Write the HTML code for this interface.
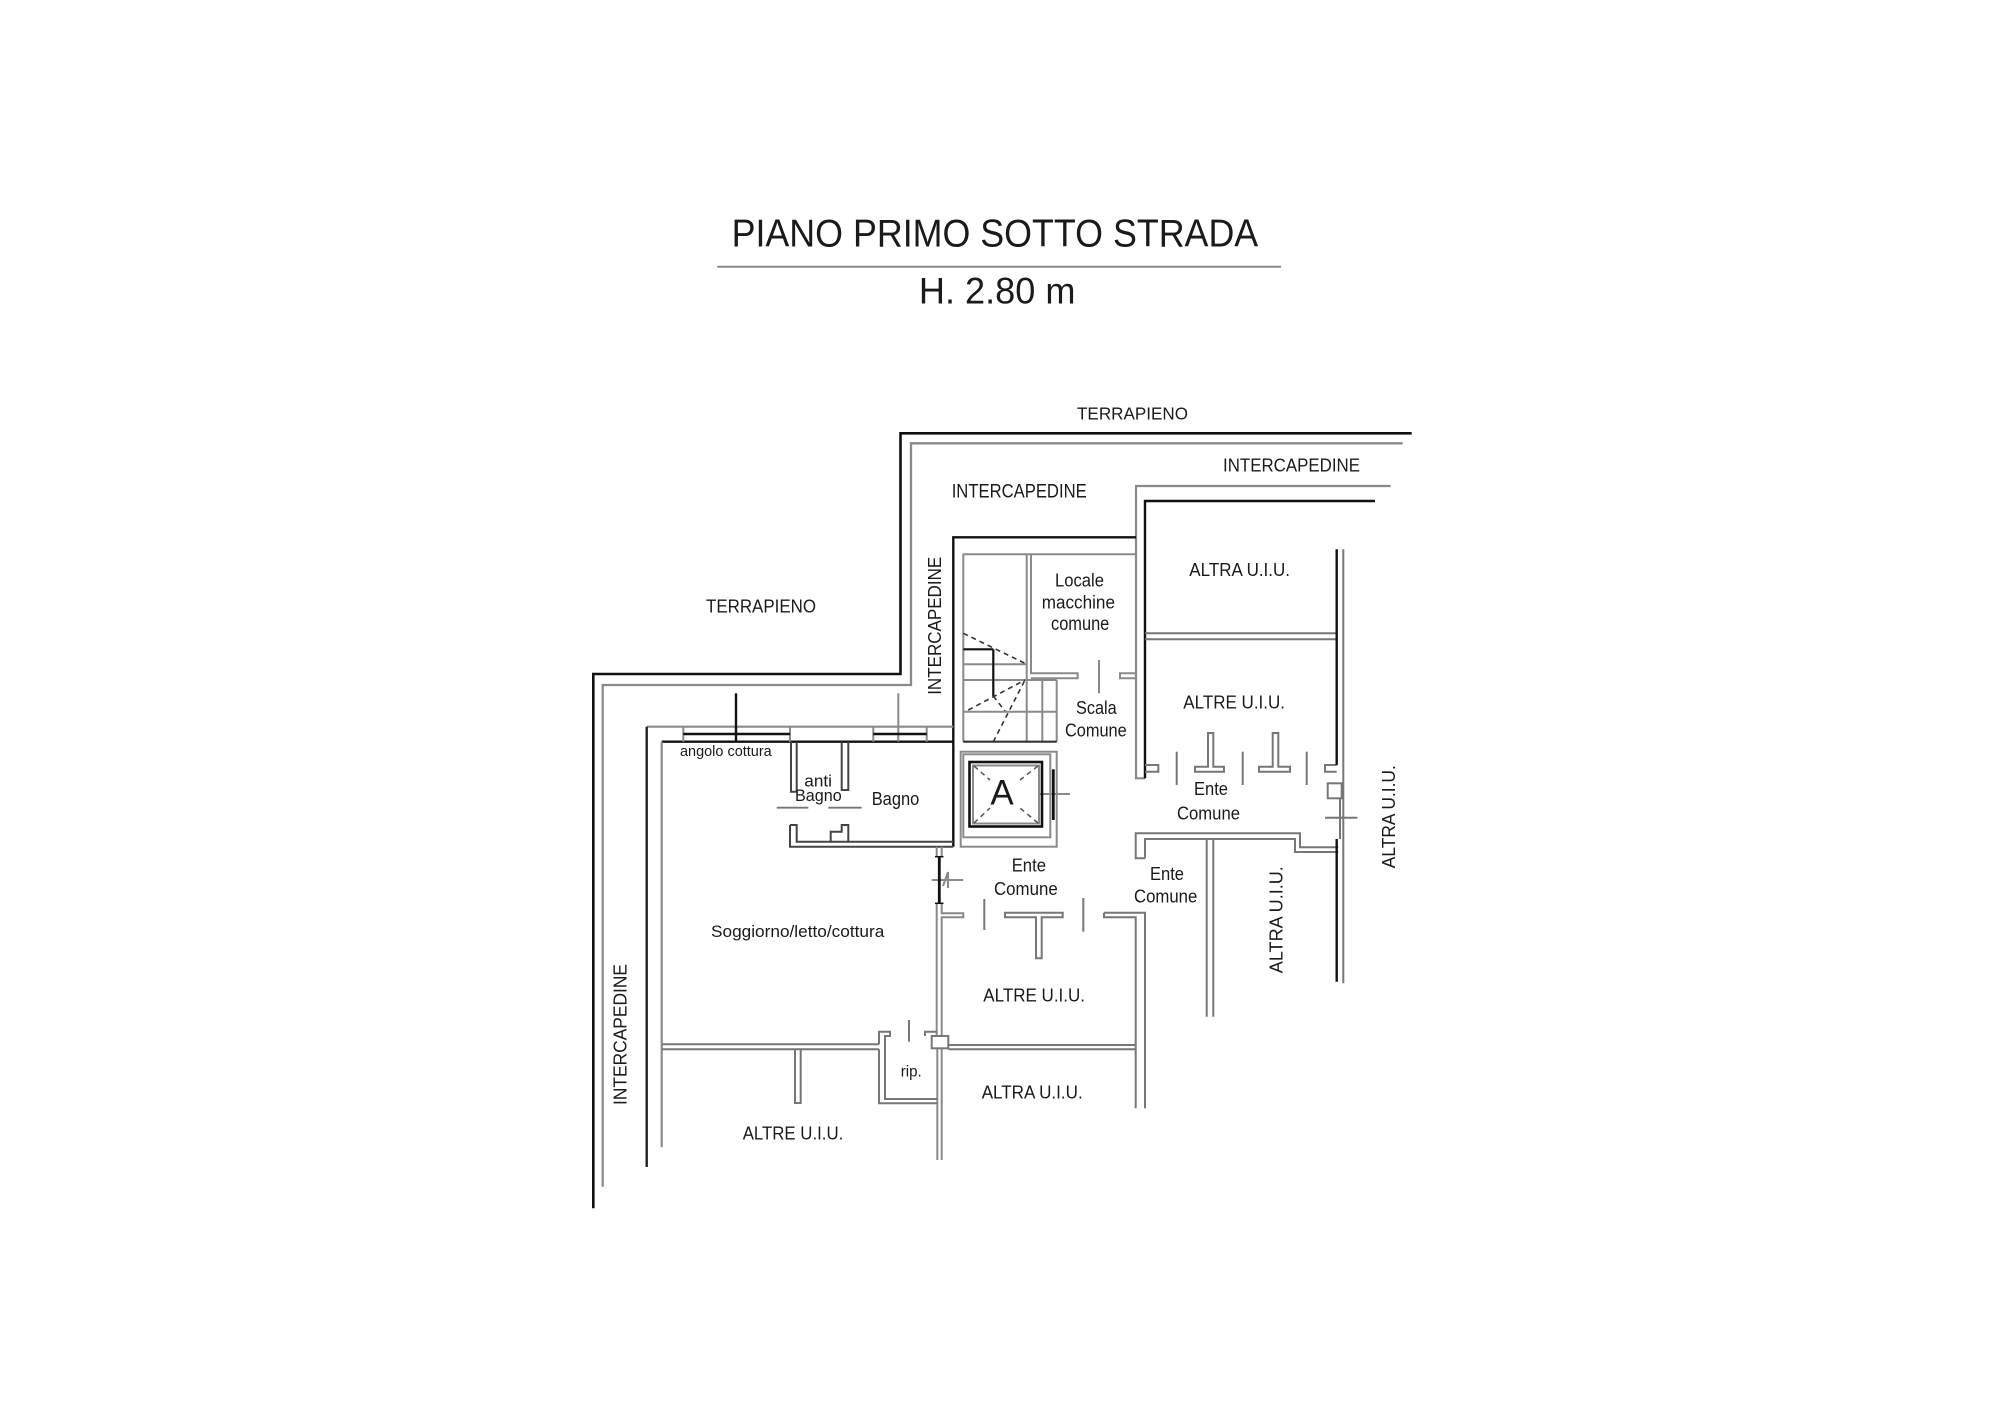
<!DOCTYPE html>
<html><head><meta charset="utf-8"><style>
html,body{margin:0;padding:0;background:#fff;}
svg{display:block;}
text{font-family:"Liberation Sans",Arial,sans-serif;fill:#1a1a1a;}
</style></head><body>
<svg width="2000" height="1414" viewBox="0 0 2000 1414" xmlns="http://www.w3.org/2000/svg">
<rect width="2000" height="1414" fill="#fff"/>

<!-- Title -->
<text x="731.6" y="246.7" font-size="38.5" textLength="526.6" lengthAdjust="spacingAndGlyphs">PIANO PRIMO SOTTO STRADA</text>
<line x1="717.3" y1="266.7" x2="1281" y2="266.7" stroke="#888" stroke-width="2"/>
<text x="918.9" y="303.3" font-size="37" textLength="156.6" lengthAdjust="spacingAndGlyphs">H. 2.80 m</text>

<g fill="none" stroke-linejoin="miter">
<!-- outer walls -->
<polyline points="1411.7,433.3 900.5,433.3 900.5,674 593.3,674 593.3,1208.3" stroke="#111" stroke-width="2.6"/>
<polyline points="1402.7,443.3 911,443.3 911,685 602.7,685 602.7,1186.7" stroke="#8a8a8a" stroke-width="2.3"/>
<polyline points="1390.7,486 1136,486 1136,778.3 1145,778.3" stroke="#8a8a8a" stroke-width="2.2"/>
<polyline points="1136,537.3 953.3,537.3 953.3,846.7" stroke="#111" stroke-width="2.4"/>
<polyline points="953.3,726.7 646.7,726.7" stroke="#8a8a8a" stroke-width="2.2"/>
<line x1="646.7" y1="726.7" x2="646.7" y2="1167" stroke="#222" stroke-width="2.4"/>
<polyline points="1375,501 1145,501 1145,778.3" stroke="#111" stroke-width="2.4"/>
<polyline points="953.3,741.7 661.7,741.7" stroke="#111" stroke-width="2.4"/>
<line x1="661.7" y1="741.7" x2="661.7" y2="1147.3" stroke="#8a8a8a" stroke-width="2.2"/>

<!-- windows on top wall -->
<g stroke="#8a8a8a" stroke-width="2">
<line x1="683.3" y1="726.7" x2="683.3" y2="741.7"/><line x1="790" y1="726.7" x2="790" y2="741.7"/>
<line x1="873.3" y1="726.7" x2="873.3" y2="741.7"/><line x1="926.7" y1="726.7" x2="926.7" y2="741.7"/>
<line x1="898.3" y1="693.3" x2="898.3" y2="741.7"/>
</g>
<g stroke="#111" stroke-width="2.4">
<line x1="683.3" y1="734" x2="790" y2="734"/><line x1="873.3" y1="734" x2="926.7" y2="734"/>
<line x1="736" y1="693.3" x2="736" y2="741.7"/>
</g>

<!-- bathroom walls -->
<g stroke="#444" stroke-width="2">
<path d="M791 741.7 V791.7 H796.7 V741.7"/>
<path d="M841.7 741.7 V790 H848.3 V741.7"/>
<path d="M790 825 V846.7 H953.3"/>
<path d="M790 825 H796.7 V841.7 H830.7 V831.7 H841.7 V825 H848.3 V841.7 H953.3"/>
<line x1="830.7" y1="841.7" x2="848.3" y2="841.7"/>
</g>
<g stroke="#777" stroke-width="1.8">
<line x1="776.7" y1="807.7" x2="808.3" y2="807.7"/>
<line x1="828.3" y1="807.7" x2="861.7" y2="807.7"/>
</g>

<!-- stair / locale -->
<g stroke="#8a8a8a" stroke-width="2">
<line x1="962.7" y1="554.3" x2="1136" y2="554.3"/>
<line x1="963.3" y1="554.3" x2="963.3" y2="741.7"/>
<path d="M1026.7 554.3 V741.7"/>
<path d="M1031 554.3 V673.3 H1077.7 V678.3 H1031"/>
<path d="M1136 673.3 H1120 V678.3 H1136"/>
<line x1="1099" y1="660" x2="1099" y2="693.3"/>
<line x1="963.3" y1="664.3" x2="1026.7" y2="664.3"/>
<line x1="963.3" y1="680" x2="1056.7" y2="680"/>
<line x1="963.3" y1="711.7" x2="1056.7" y2="711.7"/>
<line x1="1042.3" y1="680" x2="1042.3" y2="741.7"/>
<line x1="1056.7" y1="680" x2="1056.7" y2="741.7"/>
</g>
<line x1="963.3" y1="741.7" x2="1056.7" y2="741.7" stroke="#333" stroke-width="2.2"/>
<g stroke="#111" stroke-width="2.2">
<line x1="963.3" y1="649.3" x2="993.3" y2="649.3"/>
<line x1="993.3" y1="649.3" x2="993.3" y2="696"/>
</g>
<g stroke="#333" stroke-width="1.6" stroke-dasharray="5,4">
<line x1="963.3" y1="633.3" x2="1025" y2="663.3"/>
<line x1="968.3" y1="710" x2="1025" y2="680"/>
<line x1="993.3" y1="741.7" x2="1025" y2="680"/>
<line x1="993.3" y1="696" x2="1005" y2="711"/>
</g>

<!-- lift -->
<g stroke="#8a8a8a" stroke-width="2">
<rect x="960.7" y="751.7" width="96" height="95"/>
<rect x="963.3" y="754.3" width="87" height="83"/>
<rect x="973" y="765.5" width="66" height="58"/>
<line x1="1038.3" y1="794" x2="1070" y2="794"/>
</g>
<rect x="969.5" y="762" width="72.5" height="64.5" fill="none" stroke="#111" stroke-width="2.6"/>
<line x1="1053.3" y1="769.3" x2="1053.3" y2="820" stroke="#111" stroke-width="2.8"/>
<g stroke="#555" stroke-width="1.5" stroke-dasharray="5,4">
<line x1="974" y1="766" x2="990" y2="780"/>
<line x1="1038" y1="766" x2="1020" y2="780"/>
<line x1="974" y1="823" x2="990" y2="808"/>
<line x1="1038" y1="823" x2="1020" y2="808"/>
</g>

<!-- door with crosshair below bathroom -->
<g stroke="#8a8a8a" stroke-width="2">
<line x1="936.7" y1="846.7" x2="936.7" y2="856.7"/><line x1="941.7" y1="846.7" x2="941.7" y2="856.7"/>
<path d="M936.7 903.3 V1036"/><path d="M941.7 903.3 V913.3 H963.3 V917.3 H941.7 V1036"/>
<path d="M937.3 1048.3 V1160"/><path d="M941.7 1048.3 V1160"/>
<line x1="931.7" y1="880" x2="963.3" y2="880"/>
<line x1="943" y1="886" x2="948" y2="872"/><line x1="948" y1="872" x2="948" y2="888"/>
</g>
<line x1="939.3" y1="856.7" x2="939.3" y2="903.3" stroke="#111" stroke-width="2.8"/>
<line x1="935" y1="856.7" x2="943.5" y2="856.7" stroke="#111" stroke-width="1.5"/>
<line x1="935" y1="903.3" x2="943.5" y2="903.3" stroke="#111" stroke-width="1.5"/>

<!-- Ente comune lower door row -->
<g stroke="#777" stroke-width="2">
<line x1="984.3" y1="899" x2="984.3" y2="930"/>
<path d="M1005 912.7 H1062.7 V917.3 H1041.7 V958.3 H1036 V917.3 H1005 Z"/>
<line x1="1083.3" y1="898" x2="1083.3" y2="931.7"/>
<path d="M1104 912.7 H1145 V1108.3"/>
<path d="M1104 912.7 V917.3 H1135.7 V1108.3"/>
<line x1="948.3" y1="1045" x2="1135.7" y2="1045"/>
<line x1="948.3" y1="1049.3" x2="1135.7" y2="1049.3"/>
<rect x="931.7" y="1036" width="16.6" height="12.3"/>
<path d="M925 1036 V1031.7 H937.3"/>
</g>

<!-- bottom left walls -->
<g stroke="#777" stroke-width="2">
<line x1="661.7" y1="1044.3" x2="879" y2="1044.3"/>
<line x1="661.7" y1="1049.3" x2="879" y2="1049.3"/>
<path d="M795 1049.3 V1103 H800.7 V1049.3"/>
<path d="M879 1044.3 V1031.7 H890 V1036 H885 V1099 H937.3"/>
<path d="M879 1049.3 V1103.3 H937.3"/>
<line x1="909" y1="1020" x2="909" y2="1041.7"/>
</g>

<!-- right area -->
<g stroke="#777" stroke-width="2">
<line x1="1145" y1="633.3" x2="1336.7" y2="633.3"/>
<line x1="1145" y1="639.3" x2="1336.7" y2="639.3"/>
<line x1="1343.3" y1="549.3" x2="1343.3" y2="983.3"/>
<path d="M1145 765 H1158.3 V771.7 H1145"/>
<line x1="1176.7" y1="751.7" x2="1176.7" y2="785"/>
<path d="M1195 766.7 H1208 V733 H1213.3 V766.7 H1224 V771.7 H1195 Z"/>
<line x1="1242.7" y1="751.7" x2="1242.7" y2="785"/>
<path d="M1259 766.7 H1272.7 V733 H1278.3 V766.7 H1290 V771.7 H1259 Z"/>
<line x1="1306.7" y1="751.7" x2="1306.7" y2="785"/>
<path d="M1336.7 765 H1325 V771.7 H1336.7"/>
<rect x="1327.7" y="783.3" width="14" height="15"/>
<line x1="1325" y1="817.7" x2="1357.3" y2="817.7"/>
<line x1="1340" y1="798.3" x2="1340" y2="839"/>
<path d="M1145 858.3 H1135.7 V833.3 H1300 V847.3 H1338.3"/>
<path d="M1145 858.3 V839 H1295 V852 H1338.3"/>
<line x1="1206.7" y1="839" x2="1206.7" y2="1016.7"/>
<line x1="1213.3" y1="839" x2="1213.3" y2="1016.7"/>
</g>
<g stroke="#111" stroke-width="2.4">
<line x1="1336.7" y1="549.3" x2="1336.7" y2="765"/>
<line x1="1336.7" y1="839" x2="1336.7" y2="981.7"/>
</g>
</g>

<!-- labels -->
<g font-size="18" lengthAdjust="spacingAndGlyphs">
<text x="1077" y="419.3" font-size="17.5" textLength="111" lengthAdjust="spacingAndGlyphs">TERRAPIENO</text>
<text x="1223" y="471.7" textLength="137" lengthAdjust="spacingAndGlyphs">INTERCAPEDINE</text>
<text x="951.7" y="497.3" font-size="19" textLength="135" lengthAdjust="spacingAndGlyphs">INTERCAPEDINE</text>
<text x="706" y="612.7" textLength="110" lengthAdjust="spacingAndGlyphs">TERRAPIENO</text>
<text transform="translate(941,625.8) rotate(-90)" text-anchor="middle" font-size="18.5" textLength="138" lengthAdjust="spacingAndGlyphs">INTERCAPEDINE</text>
<text transform="translate(626.7,1034.5) rotate(-90)" text-anchor="middle" font-size="18.5" textLength="141" lengthAdjust="spacingAndGlyphs">INTERCAPEDINE</text>
<text transform="translate(1282.7,919.7) rotate(-90)" text-anchor="middle" font-size="18" textLength="107" lengthAdjust="spacingAndGlyphs">ALTRA U.I.U.</text>
<text transform="translate(1395,816.7) rotate(-90)" text-anchor="middle" font-size="18" textLength="103" lengthAdjust="spacingAndGlyphs">ALTRA U.I.U.</text>

<text x="1055" y="586.7" textLength="49" lengthAdjust="spacingAndGlyphs">Locale</text>
<text x="1041.7" y="608.3" textLength="73.3" lengthAdjust="spacingAndGlyphs">macchine</text>
<text x="1051" y="630" font-size="19" textLength="58.3" lengthAdjust="spacingAndGlyphs">comune</text>
<text x="1076" y="714" textLength="40.7" lengthAdjust="spacingAndGlyphs">Scala</text>
<text x="1065" y="736.7" textLength="61.7" lengthAdjust="spacingAndGlyphs">Comune</text>
<text x="1189.3" y="576" textLength="100.7" lengthAdjust="spacingAndGlyphs">ALTRA U.I.U.</text>
<text x="1183.3" y="708.3" textLength="101.7" lengthAdjust="spacingAndGlyphs">ALTRE U.I.U.</text>
<text x="1194" y="795" textLength="34" lengthAdjust="spacingAndGlyphs">Ente</text>
<text x="1177" y="819.3" textLength="63" lengthAdjust="spacingAndGlyphs">Comune</text>
<text x="1011.7" y="871.7" textLength="34.3" lengthAdjust="spacingAndGlyphs">Ente</text>
<text x="994" y="895" textLength="63.7" lengthAdjust="spacingAndGlyphs">Comune</text>
<text x="1150" y="880" textLength="34" lengthAdjust="spacingAndGlyphs">Ente</text>
<text x="1134" y="902.7" textLength="63.3" lengthAdjust="spacingAndGlyphs">Comune</text>
<text x="983.3" y="1001.7" textLength="101.7" lengthAdjust="spacingAndGlyphs">ALTRE U.I.U.</text>
<text x="981.7" y="1098.3" textLength="101" lengthAdjust="spacingAndGlyphs">ALTRA U.I.U.</text>
<text x="742.7" y="1139.3" textLength="100.6" lengthAdjust="spacingAndGlyphs">ALTRE U.I.U.</text>
<text x="900.7" y="1076.7" font-size="16" textLength="21" lengthAdjust="spacingAndGlyphs">rip.</text>
<text x="711" y="937" font-size="17" textLength="173.3" lengthAdjust="spacingAndGlyphs">Soggiorno/letto/cottura</text>
<text x="680" y="756" font-size="15" textLength="91.7" lengthAdjust="spacingAndGlyphs" fill="#000">angolo cottura</text>
<text x="804.3" y="786.7" font-size="17" textLength="27.7" lengthAdjust="spacingAndGlyphs">anti</text>
<text x="795" y="801" font-size="17" textLength="46.7" lengthAdjust="spacingAndGlyphs">Bagno</text>
<text x="871.7" y="805" textLength="47.6" lengthAdjust="spacingAndGlyphs">Bagno</text>
<text x="1002" y="804.3" font-size="35" text-anchor="middle">A</text>
</g>
</svg>
</body></html>
